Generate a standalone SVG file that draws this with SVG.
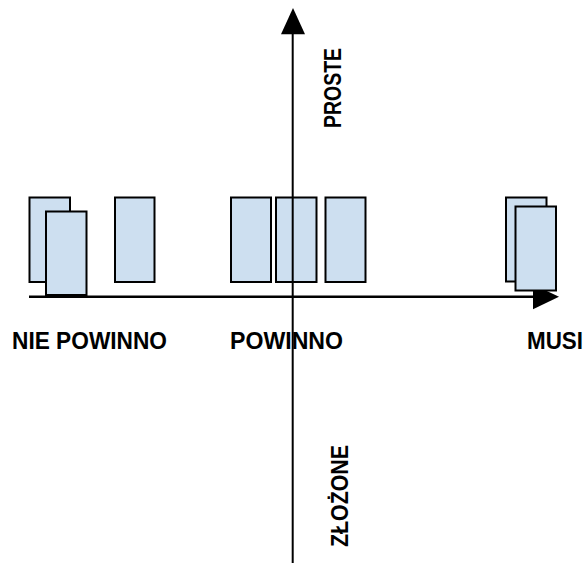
<svg xmlns="http://www.w3.org/2000/svg" width="585" height="565" viewBox="0 0 585 565">
<style>
.box{fill:#cddff0;stroke:#000;stroke-width:2}
.lbl{font-family:"Liberation Sans",Arial,sans-serif;font-weight:bold;font-size:23px;fill:#000}
.ax{stroke:#000;fill:none}
</style>
<rect width="585" height="565" fill="#fff"/>
<g id="connectors">
<g id="axis-x">
<line class="ax" x1="29" y1="296.8" x2="535" y2="296.8" stroke-width="2.6"/>
<polygon points="533,284.5 559,296.8 533,309.3" fill="#000"/>
</g>
</g>
<g id="node-np1"><rect class="box" x="29.5" y="197.5" width="40.5" height="84.5"/></g>
<g id="node-np2"><rect class="box" x="46" y="211.5" width="40.5" height="83.5"/></g>
<g id="node-np3"><rect class="box" x="115" y="197.5" width="39.5" height="84.5"/></g>
<g id="node-p1"><rect class="box" x="231" y="197.5" width="40" height="84.5"/></g>
<g id="node-p2"><rect class="box" x="276" y="197.5" width="40.5" height="84.5"/></g>
<g id="node-p3"><rect class="box" x="325.5" y="197.5" width="40" height="84.5"/></g>
<g id="node-m1"><rect class="box" x="506" y="197.5" width="40.5" height="84"/></g>
<g id="node-m2"><rect class="box" x="515.5" y="206.5" width="40.5" height="84"/></g>
<g id="connectors-y">
<line class="ax" x1="292.7" y1="32" x2="292.7" y2="563" stroke-width="2"/>
<polygon points="281,34.3 293,8 305,34.3" fill="#000"/>
</g>
<g id="labels">
<text class="lbl" x="12" y="348.5" textLength="155" lengthAdjust="spacingAndGlyphs">NIE POWINNO</text>
<text class="lbl" x="230" y="348.5" textLength="113" lengthAdjust="spacingAndGlyphs">POWINNO</text>
<text class="lbl" x="527" y="348.5" textLength="56" lengthAdjust="spacingAndGlyphs">MUSI</text>
<text class="lbl" transform="translate(340.5,128) rotate(-90)" textLength="80" lengthAdjust="spacingAndGlyphs">PROSTE</text>
<text class="lbl" transform="translate(347.5,547) rotate(-90)" textLength="102" lengthAdjust="spacingAndGlyphs">ZŁOŻONE</text>
</g>
</svg>
